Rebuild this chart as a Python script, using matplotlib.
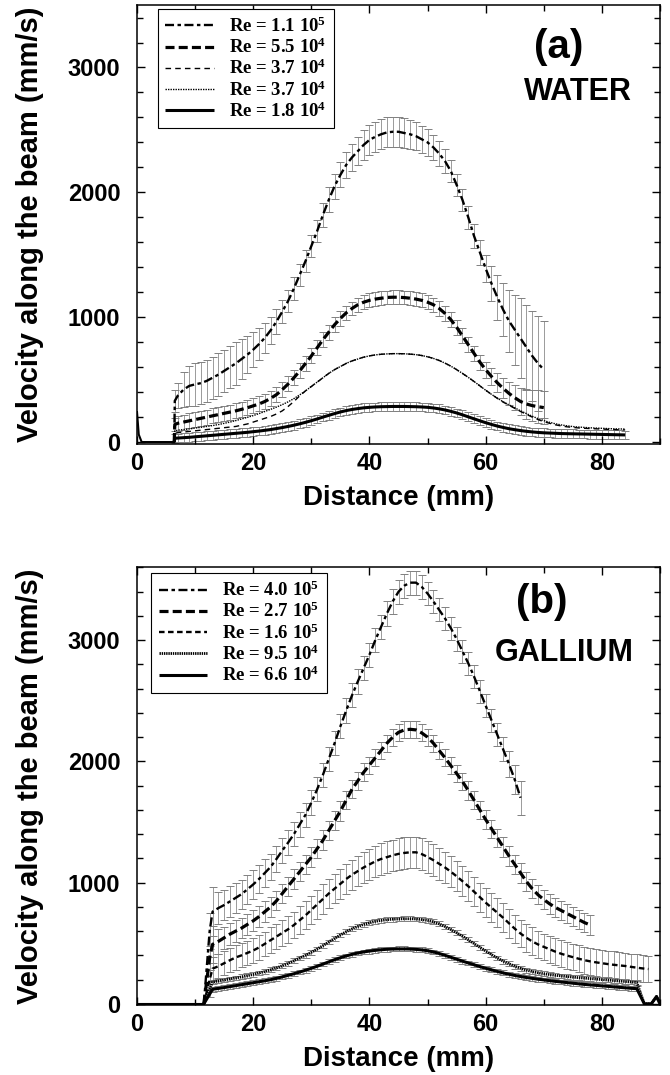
import numpy as np
import matplotlib
matplotlib.use('Agg')
import matplotlib.pyplot as plt
from matplotlib.ticker import MultipleLocator

SANS = ['Liberation Sans Narrow', 'Liberation Sans', 'DejaVu Sans']
plt.rcParams['font.family'] = SANS
plt.rcParams['font.weight'] = 'bold'
plt.rcParams['axes.labelweight'] = 'bold'
plt.rcParams['lines.scale_dashes'] = False
plt.rcParams['mathtext.fontset'] = 'custom'
plt.rcParams['mathtext.rm'] = 'Liberation Serif:bold'
plt.rcParams['mathtext.it'] = 'Liberation Serif:bold'
plt.rcParams['mathtext.bf'] = 'Liberation Serif:bold'
plt.rcParams['mathtext.default'] = 'rm'

# ---------------- Panel (a) WATER ----------------
labels_a = ['Re = 1.1 10$^{5}$', 'Re = 5.5 10$^{4}$', 'Re = 3.7 10$^{4}$',
            'Re = 3.7 10$^{4}$', 'Re = 1.8 10$^{4}$']

xa_short = np.r_[6.5, np.arange(7, 71)]
xa_long = np.r_[6.5, np.arange(7, 85)]

wa1 = [330,
       370, 420, 450, 462, 472, 490, 515, 540, 570, 600,
       630, 665, 700, 740, 785, 835, 895, 965, 1045, 1130,
       1230, 1340, 1450, 1570, 1690, 1820, 1940, 2050, 2140, 2220,
       2280, 2330, 2380, 2420, 2445, 2465, 2480, 2485, 2485, 2475,
       2465, 2450, 2425, 2400, 2360, 2310, 2250, 2170, 2060, 1940,
       1800, 1650, 1520, 1390, 1270, 1160, 1060, 970, 900, 830,
       760, 690, 630, 580]
ea1 = [90,
       100, 140, 160, 170, 170, 170, 170, 170, 170, 170,
       170, 160, 150, 140, 130, 120, 110, 100, 95, 90,
       90, 90, 90, 90, 90, 95, 100, 100, 100, 105,
       110, 115, 120, 120, 120, 120, 120, 120, 120, 120,
       115, 110, 110, 105, 100, 100, 95, 90, 90, 90,
       90, 95, 100, 110, 140, 180, 210, 250, 280, 320,
       340, 360, 380, 390]

wa2 = [140,
       150, 160, 170, 180, 190, 200, 210, 220, 230, 240,
       250, 262, 275, 290, 305, 325, 350, 380, 420, 465,
       515, 570, 630, 690, 755, 820, 880, 940, 990, 1035,
       1070, 1100, 1120, 1135, 1145, 1152, 1158, 1160, 1160, 1157,
       1152, 1145, 1135, 1120, 1100, 1070, 1030, 980, 920, 850,
       780, 710, 640, 580, 525, 475, 430, 390, 355, 325,
       305, 292, 283, 276]
ea2 = [50,
       60, 60, 60, 60, 60, 60, 60, 60, 60, 60,
       60, 60, 60, 60, 60, 60, 60, 60, 60, 60,
       60, 60, 60, 60, 60, 60, 60, 60, 60, 55,
       55, 55, 55, 55, 55, 55, 55, 55, 55, 55,
       55, 55, 55, 55, 55, 60, 60, 60, 60, 60,
       60, 60, 60, 65, 70, 75, 80, 90, 100, 110,
       120, 125, 130, 130]

wa3 = [70,
       75, 80, 85, 90, 95, 100, 105, 110, 115, 120,
       125, 135, 145, 160, 175, 190, 205, 225, 250, 285,
       325, 370, 410, 445, 480, 515, 550, 580, 605, 630,
       650, 665, 680, 690, 698, 703, 706, 708, 708, 707,
       704, 700, 693, 683, 670, 653, 632, 608, 580, 550,
       518, 485, 450, 415, 382, 350, 320, 295, 270, 245,
       222, 200, 180, 163, 150, 138, 129, 122, 117, 113,
       110, 108, 106, 104, 102, 100, 98, 97]

wa4 = [90,
       95, 100, 105, 112, 118, 125, 132, 140, 150, 160,
       172, 185, 198, 212, 228, 245, 262, 280, 300, 322,
       348, 378, 410, 445, 480, 515, 550, 580, 605, 630,
       650, 665, 680, 690, 698, 703, 706, 708, 708, 707,
       704, 700, 693, 683, 670, 653, 632, 608, 580, 550,
       518, 485, 450, 415, 382, 352, 323, 298, 274, 250,
       228, 207, 188, 172, 158, 146, 137, 130, 124, 120,
       117, 114, 112, 110, 108, 106, 105, 104]

wa5 = [30,
       32, 35, 38, 42, 46, 50, 54, 58, 62, 66,
       70, 74, 78, 83, 88, 94, 100, 108, 116, 125,
       135, 146, 158, 171, 185, 200, 214, 228, 241, 252,
       261, 268, 274, 278, 281, 283, 284, 285, 285, 285,
       284, 283, 281, 278, 273, 266, 257, 246, 233, 218,
       202, 186, 170, 155, 141, 128, 117, 107, 99, 92,
       86, 81, 77, 74, 72, 70, 68, 67, 66, 65,
       64, 63, 62, 61, 60, 59, 58, 57]
ea5 = 35

base_a_x = [0.0, 0.3, 0.8, 6.4]
base_a_v = [240, 60, 0, 0]
start_a = 6.4

# ---------------- Panel (b) GALLIUM ----------------
labels_b = ['Re = 4.0 10$^{5}$', 'Re = 2.7 10$^{5}$', 'Re = 1.6 10$^{5}$',
            'Re = 9.5 10$^{4}$', 'Re = 6.6 10$^{4}$']

xb1 = np.r_[12.5, np.arange(13, 67)]
xb2 = np.r_[12.5, np.arange(13, 79)]
xb3 = np.r_[12.5, np.arange(13, 89)]
xb4 = np.r_[12.5, np.arange(13, 87)]

gb1 = [600,
       760, 790, 815, 845, 875, 905, 945, 985, 1030, 1080,
       1130, 1195, 1265, 1330, 1400, 1480, 1560, 1660, 1770, 1890,
       2020, 2150, 2290, 2420, 2545, 2660, 2770, 2880, 3000, 3110,
       3220, 3320, 3400, 3450, 3475, 3475, 3440, 3385, 3320, 3250,
       3180, 3100, 3010, 2910, 2810, 2700, 2580, 2460, 2340, 2220,
       2100, 1980, 1850, 1700]
eb1 = [150,
       200, 130, 125, 125, 125, 120, 120, 120, 115, 115,
       110, 110, 105, 105, 100, 100, 100, 100, 100, 100,
       100, 100, 100, 100, 100, 100, 100, 100, 100, 100,
       100, 100, 100, 100, 100, 100, 100, 95, 95, 95,
       95, 95, 95, 95, 95, 95, 95, 95, 95, 95,
       100, 110, 120, 140]

gb2 = [380,
       490, 515, 545, 575, 600, 625, 655, 685, 720, 760,
       800, 850, 910, 970, 1030, 1090, 1150, 1210, 1280, 1350,
       1430, 1510, 1590, 1680, 1770, 1840, 1910, 1970, 2030, 2090,
       2150, 2200, 2240, 2260, 2265, 2260, 2235, 2200, 2150, 2090,
       2030, 1965, 1900, 1835, 1760, 1680, 1600, 1520, 1445, 1370,
       1295, 1220, 1150, 1080, 1010, 950, 900, 860, 825, 795,
       770, 745, 720, 695, 670, 650]
eb2 = [100,
       150, 100, 90, 90, 90, 85, 85, 85, 85, 85,
       80, 80, 80, 80, 80, 80, 80, 80, 80, 80,
       80, 80, 80, 75, 75, 75, 75, 70, 70, 70,
       70, 70, 70, 70, 70, 70, 70, 70, 70, 70,
       70, 70, 70, 70, 75, 75, 75, 75, 75, 75,
       80, 80, 80, 80, 80, 80, 80, 80, 80, 80,
       80, 80, 80, 80, 80, 80]

gb3 = [200,
       290, 310, 335, 360, 383, 400, 420, 440, 465, 495,
       525, 555, 585, 615, 650, 690, 730, 775, 820, 865,
       910, 950, 990, 1030, 1065, 1095, 1125, 1150, 1175, 1195,
       1210, 1225, 1237, 1245, 1250, 1250, 1235, 1212, 1185, 1155,
       1125, 1090, 1052, 1012, 970, 925, 880, 835, 793, 752,
       710, 665, 620, 580, 545, 515, 490, 470, 450, 430,
       413, 398, 385, 372, 360, 350, 342, 335, 328, 322,
       317, 312, 305, 298, 292, 287]
eb3 = [80,
       100, 100, 100, 100, 100, 100, 100, 100, 100, 100,
       105, 105, 110, 110, 110, 115, 115, 115, 120, 120,
       120, 120, 125, 125, 125, 125, 130, 130, 130, 130,
       130, 130, 130, 130, 130, 130, 130, 130, 130, 130,
       130, 130, 125, 125, 125, 120, 120, 120, 120, 120,
       120, 120, 115, 115, 115, 115, 110, 110, 110, 110,
       110, 110, 110, 110, 110, 110, 110, 110, 110, 110,
       110, 110, 110, 110, 110, 110]

gb4 = [120,
       180, 188, 196, 205, 213, 222, 232, 242, 254, 266,
       280, 296, 314, 334, 356, 378, 400, 425, 452, 480,
       510, 540, 568, 595, 618, 638, 655, 668, 680, 688,
       694, 698, 700, 702, 702, 700, 695, 688, 676, 660,
       638, 613, 586, 558, 528, 497, 466, 436, 406, 378,
       352, 330, 310, 293, 278, 266, 256, 248, 241, 235,
       230, 225, 220, 216, 212, 208, 204, 200, 196, 192,
       188, 184, 180, 176]
eb4 = 20

gb5 = [80,
       120, 127, 134, 142, 150, 158, 166, 174, 182, 190,
       199, 210, 222, 235, 248, 262, 277, 293, 310, 328,
       346, 364, 380, 395, 408, 419, 428, 435, 441, 446,
       450, 452, 453, 453, 452, 449, 445, 438, 428, 415,
       400, 384, 368, 352, 337, 322, 307, 293, 280, 267,
       255, 244, 234, 225, 217, 210, 203, 197, 191, 185,
       180, 175, 170, 165, 160, 156, 152, 148, 144, 140,
       136, 132, 128, 125]
eb5 = 20

base_b_x = [0.0, 11.5]
base_b_v = [0, 0]
start_b = 11.5
tail_b_x = [87.3, 88.5, 89.4, 90.0]
tail_b_v = [0, 0, 60, 0]

# ---------------- styles ----------------
styles_a = [dict(lw=1.7, ls=(0, (6.5, 2.5, 2.5, 2.5))),
            dict(lw=2.3, ls=(0, (6.5, 3.0))),
            dict(lw=1.0, ls=(0, (4.0, 3.0))),
            dict(lw=1.0, ls=(0, (1.0, 0.8))),
            dict(lw=2.2, ls='-')]
styles_b = [dict(lw=1.7, ls=(0, (6.5, 2.5, 2.5, 2.5))),
            dict(lw=2.3, ls=(0, (6.5, 3.0))),
            dict(lw=1.7, ls=(0, (4.0, 2.5))),
            dict(lw=2.0, ls=(0, (1.0, 0.6))),
            dict(lw=2.2, ls='-')]

fig = plt.figure(figsize=(6.7, 10.75), dpi=100)
ax_a = fig.add_axes([0.2045, 0.5874, 0.7806, 0.4079])
ax_b = fig.add_axes([0.2045, 0.0651, 0.7806, 0.4070])

ERR = dict(fmt='none', ecolor='0.5', elinewidth=0.55, capsize=3.0, capthick=0.7, zorder=1)


def draw(ax, xs, vs, es, start, styles, labels, tails):
    handles = []
    for x, v, e, st, lab, tail in zip(xs, vs, es, styles, labels, tails):
        if e is not None:
            ax.errorbar(x, v, yerr=e, **ERR)
        px = np.r_[start, x]
        pv = np.r_[0, v]
        if tail is not None:
            px = np.r_[px, tail[0]]
            pv = np.r_[pv, tail[1]]
        h, = ax.plot(px, pv, color='k', linestyle=st['ls'], linewidth=st['lw'],
                     zorder=3, label=lab, solid_capstyle='butt', dash_capstyle='butt')
        handles.append(h)
    return handles


ha = draw(ax_a, [xa_short, xa_short, xa_long, xa_long, xa_long],
          [wa1, wa2, wa3, wa4, wa5], [ea1, ea2, None, None, ea5],
          start_a, styles_a, labels_a, [None] * 5)
ax_a.plot(base_a_x, base_a_v, color='k', lw=1.5, zorder=3)

hb = draw(ax_b, [xb1, xb2, xb3, xb4, xb4],
          [gb1, gb2, gb3, gb4, gb5], [eb1, eb2, eb3, eb4, eb5],
          start_b, styles_b, labels_b,
          [None, None, None, (tail_b_x, tail_b_v), (tail_b_x, tail_b_v)])
ax_b.plot(base_b_x, base_b_v, color='k', lw=1.5, zorder=3)

panels = [
    (ax_a, (-12, 3500), ha, labels_a, (0.040, 0.991), '(a)', 'WATER',
     (0.806, 0.905), (0.843, 0.801), -0.125),
    (ax_b, (-10, 3600), hb, labels_b, (0.027, 0.987), '(b)', 'GALLIUM',
     (0.773, 0.921), (0.817, 0.804), -0.123),
]
for ax, ylim, handles, labels, anchor, tag, name, tagpos, namepos, xlab_y in panels:
    ax.set_xlim(0, 90)
    ax.set_ylim(*ylim)
    ax.xaxis.set_major_locator(MultipleLocator(20))
    ax.xaxis.set_minor_locator(MultipleLocator(10))
    ax.yaxis.set_major_locator(MultipleLocator(1000))
    ax.yaxis.set_minor_locator(MultipleLocator(200))
    ax.tick_params(which='both', direction='in', top=True, right=True, width=1.0, labelsize=17)
    ax.tick_params(which='major', length=6)
    ax.tick_params(which='minor', length=4)
    ax.tick_params(axis='y', pad=12)
    ax.tick_params(axis='x', pad=6)
    for sp in ax.spines.values():
        sp.set_linewidth(1.1)
    ax.set_xlabel('Distance (mm)', fontsize=20, va='center')
    ax.set_ylabel('Velocity along the beam (mm/s)', fontsize=21, va='center')
    ax.xaxis.set_label_coords(0.5, xlab_y)
    ax.yaxis.set_label_coords(-0.205, 0.5)
    leg = ax.legend(handles=handles, labels=labels, loc='upper left', bbox_to_anchor=anchor,
                    borderaxespad=0, frameon=True, fancybox=False, framealpha=1,
                    edgecolor='k', handlelength=2.6, handletextpad=0.8, labelspacing=0.1,
                    borderpad=0.4,
                    prop=dict(family=['Liberation Serif', 'DejaVu Serif'], weight='bold', size=13.5))
    leg.get_frame().set_linewidth(0.8)
    ax.text(*tagpos, tag, transform=ax.transAxes, ha='center', va='center',
            fontsize=29, fontweight='bold')
    ax.text(*namepos, name, transform=ax.transAxes, ha='center', va='center',
            fontsize=22, fontweight='bold')

fig.savefig('out.png', dpi=100)
